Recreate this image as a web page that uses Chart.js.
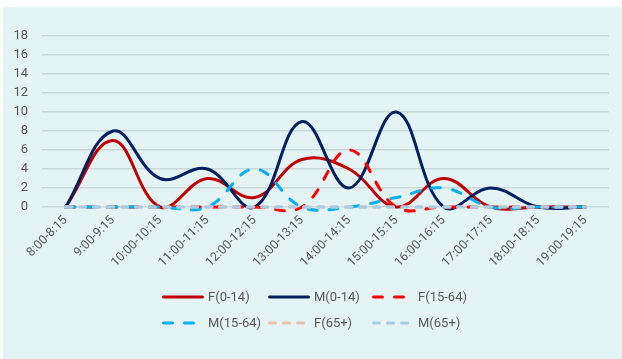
<!DOCTYPE html>
<html>
<head>
<meta charset="utf-8">
<script src="https://cdn.jsdelivr.net/npm/chart.js@4/dist/chart.umd.min.js"></script>
<style>
  html, body { margin: 0; padding: 0; background: #ffffff; }
  #wrap { position: relative; width: 622px; height: 359px; }
  canvas { display: block; }
</style>
</head>
<body>
<div id="wrap"><canvas id="chart" width="622" height="359"></canvas></div>
<script>
// Quarter-hour time slots observed over the day
const timeSlots = [
  '8:00-8:15', '9:00-9:15', '10:00-10:15', '11:00-11:15', '12:00-12:15', '13:00-13:15',
  '14:00-14:15', '15:00-15:15', '16:00-16:15', '17:00-17:15', '18:00-18:15', '19:00-19:15'
];

// Counts per group
const femaleChild  = [0, 7, 0, 3, 1, 5, 4, 0, 3, 0, 0, 0];
const maleChild    = [0, 8, 3, 4, 0, 9, 2, 10, 0, 2, 0, 0];
const femaleAdult  = [0, 0, 0, 0, 0, 0, 6, 0, 0, 0, 0, 0];
const maleAdult    = [0, 0, 0, 0, 4, 0, 0, 1, 2, 0, 0, 0];
const femaleSenior = [0, 0, 0, 0, 0, 0, 0, 0, 0, 0, 0, 0];
const maleSenior   = [0, 0, 0, 0, 0, 0, 0, 0, 0, 0, 0, 0];

const yTicks = [0, 2, 4, 6, 8, 10, 12, 14, 16, 18];

const seriesNames = ['F(0-14)', 'M(0-14)', 'F(15-64)', 'M(15-64)', 'F(65+)', 'M(65+)'];
const seriesData = [femaleChild, maleChild, femaleAdult, maleAdult, femaleSenior, maleSenior];
const seriesColors = ['#C00000', '#002060', '#FF0000', '#00B0F0', '#E8C4A4', '#A9CBE6'];
const seriesDash = [[], [], [9, 12], [9, 12], [6, 8], [6, 8]];

const textColor = '#595959';
const fontFamily = 'Roboto, "Liberation Sans", sans-serif';

const datasets = seriesNames.map((name, i) => ({
  label: name,
  data: seriesData[i],
  borderColor: seriesColors[i],
  backgroundColor: seriesColors[i],
  borderWidth: 3,
  borderDash: seriesDash[i],
  borderCapStyle: 'round',
  borderJoinStyle: 'round',
  pointRadius: 0,
  pointHoverRadius: 0,
  tension: 0.4,
  fill: false,
  clip: false,
  order: seriesNames.length - i
}));

// Panel background
const panelBackground = {
  id: 'panelBackground',
  beforeDraw(chart) {
    const ctx = chart.ctx;
    ctx.save();
    ctx.fillStyle = '#E4F3F4';
    ctx.fillRect(3, 7, chart.width - 3, chart.height - 7);
    ctx.restore();
  }
};

// Two-row legend laid out on a column grid
const gridLegend = {
  id: 'gridLegend',
  afterDraw(chart) {
    const ctx = chart.ctx;
    const cols = [162, 268, 372];
    const rows = [297, 323];
    const lineLen = 42;
    ctx.save();
    ctx.font = '13px ' + fontFamily;
    ctx.textBaseline = 'middle';
    ctx.textAlign = 'left';
    seriesNames.forEach((name, i) => {
      const x = cols[i % 3];
      const y = rows[Math.floor(i / 3)];
      ctx.beginPath();
      ctx.strokeStyle = seriesColors[i];
      ctx.lineWidth = 3;
      ctx.lineCap = 'round';
      ctx.setLineDash(seriesDash[i]);
      ctx.moveTo(x + 1.5, y);
      ctx.lineTo(x + lineLen - 1.5, y);
      ctx.stroke();
      ctx.setLineDash([]);
      ctx.fillStyle = textColor;
      ctx.fillText(name, x + lineLen + 4, y + 0.5);
    });
    ctx.restore();
  }
};

new Chart(document.getElementById('chart'), {
  type: 'line',
  data: { labels: timeSlots, datasets },
  options: {
    responsive: false,
    animation: false,
    events: [],
    layout: { padding: { left: 0, right: 13, top: 36, bottom: 0 } },
    elements: { line: { capBezierPoints: false } },
    plugins: {
      legend: { display: false },
      tooltip: { enabled: false },
      title: { display: false }
    },
    scales: {
      x: {
        offset: true,
        grid: { display: false, drawTicks: false },
        border: { display: false },
        ticks: {
          color: textColor,
          font: { family: fontFamily, size: 12.5 },
          minRotation: 45,
          maxRotation: 45,
          autoSkip: false,
          padding: 6
        },
        afterFit(scale) { scale.height = 152; }
      },
      y: {
        min: 0,
        max: 18,
        afterBuildTicks(scale) { scale.ticks = yTicks.map(v => ({ value: v })); },
        grid: { color: '#C9D9DA', lineWidth: 1.5, drawTicks: false },
        border: { display: false },
        ticks: {
          color: textColor,
          font: { family: fontFamily, size: 13 },
          padding: 14
        },
        afterFit(scale) { scale.width = 42; }
      }
    }
  },
  plugins: [panelBackground, gridLegend]
});
</script>
</body>
</html>
